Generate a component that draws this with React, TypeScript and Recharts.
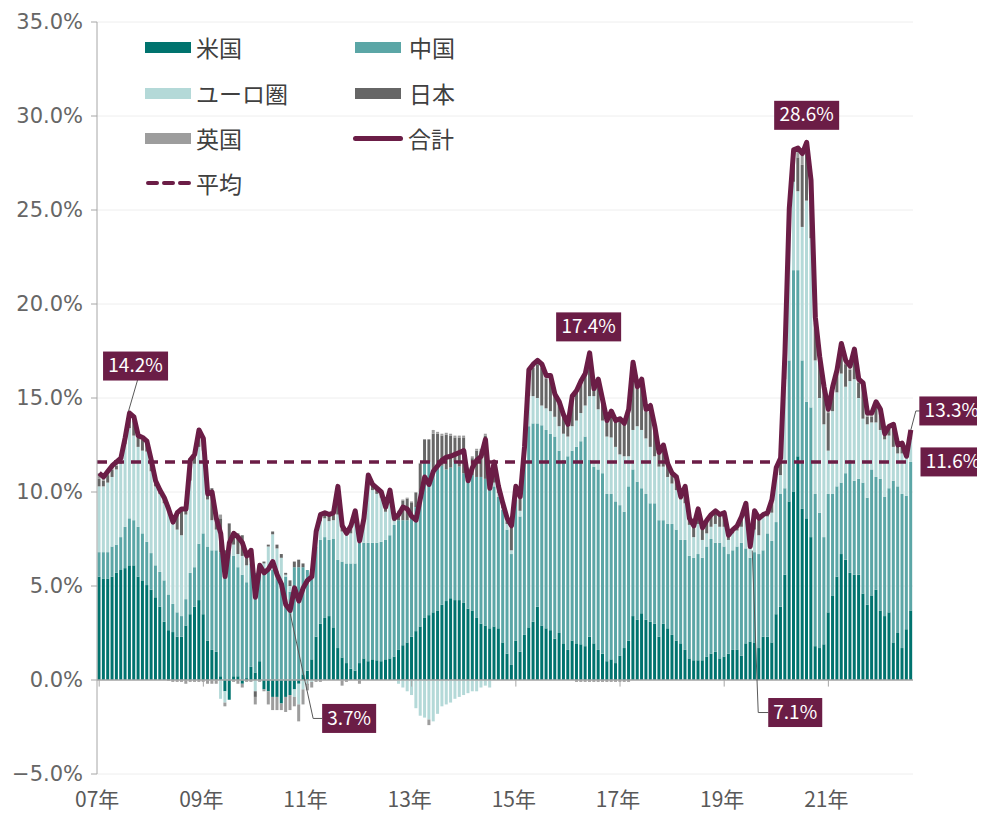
import React from "react";
import {
  ComposedChart,
  Bar,
  Line,
  XAxis,
  YAxis,
  CartesianGrid,
  ReferenceLine,
  LabelList,
} from "recharts";

// 2007年1月〜2022年8月 (月次)
const START_YEAR = 2007;

// 米国
const us = [
  5.5, 5.4, 5.4, 5.5, 5.7, 5.85, 5.95, 6.1, 6.1, 5.5, 5.3, 5.05,
  4.8, 4.4, 3.9, 3.1, 2.65, 2.55, 2.3, 2.3, 2.9, 3.5, 3.9, 4.25,
  3.5, 2.1, 1.6, 1.5, 0.2, -0.6, -1.05, 0.2, 0.2, -0.2, 0.1, 0.7,
  0.4, 1.0, -0.5, -0.6, -0.9, -0.9, -1.25, -0.9, -0.8, -0.5, -0.2, 0.3,
  0.5, 1.1, 2.3, 3.0, 3.3, 3.4, 2.8, 1.7, 1.2, 0.9, 0.6, 0.5,
  0.9, 1.15, 1.0, 1.1, 1.05, 1.0, 1.1, 1.15, 1.25, 1.6, 1.85, 2.0,
  2.3, 2.6, 2.85, 3.3, 3.45, 3.6, 3.7, 4.0, 4.2, 4.35, 4.25, 4.25,
  4.1, 3.8, 3.7, 3.3, 3.0, 2.9, 2.75, 2.85, 2.75, 2.0, 1.4, 0.8,
  2.1, 1.5, 2.4, 2.8, 3.1, 3.9, 2.9, 2.75, 2.65, 2.2, 2.5, 1.95,
  1.6, 2.1, 1.95, 1.9, 1.8, 2.3, 1.95, 1.6, 1.4, 1.0, 1.1, 0.9,
  1.3, 1.7, 2.1, 3.4, 3.2, 3.55, 3.2, 3.1, 3.0, 2.3, 3.0, 2.75,
  2.4, 2.1, 1.95, 1.6, 1.15, 1.05, 1.05, 1.05, 1.25, 1.4, 1.5, 1.15,
  1.25, 1.4, 1.6, 1.6, 1.3, 1.95, 2.05, 2.0, 1.7, 2.3, 2.3, 2.0,
  3.5, 3.9, 5.6, 9.5, 10.0, 11.9, 9.1, 8.6, 7.6, 1.8, 1.7, 1.9,
  3.6, 4.5, 5.5, 6.7, 6.4, 5.7, 5.6, 5.6, 4.6, 4.0, 4.5, 4.8,
  3.7, 3.4, 3.6, 2.0, 2.5, 1.7, 2.7, 3.7,
];

// 中国
const cn = [
  1.3, 1.4, 1.4, 1.6, 1.5, 1.75, 2.2, 2.5, 2.4, 2.65, 2.5, 2.3,
  1.95, 1.7, 1.85, 2.2, 1.9, 1.5, 1.3, 1.1, 1.4, 2.2, 2.1, 3.0,
  4.3, 5.0, 5.3, 5.4, 6.6, 6.5, 6.8, 6.4, 5.8, 5.6, 5.1, 5.5,
  5.3, 5.2, 5.9, 6.0, 5.85, 5.8, 5.0, 5.5, 4.7, 6.0, 6.0, 5.7,
  5.35, 4.6, 4.8, 4.45, 4.3, 4.05, 4.7, 4.7, 5.1, 5.3, 5.6, 5.7,
  6.4, 6.15, 6.3, 6.2, 6.25, 6.35, 6.35, 6.55, 7.0, 6.9, 6.65, 6.5,
  6.4, 6.6, 7.15, 8.3, 8.15, 7.4, 7.8, 7.4, 7.0, 6.95, 7.35, 7.1,
  6.9, 7.2, 7.2, 7.5, 7.8, 7.8, 7.75, 7.45, 7.0, 7.05, 6.6, 5.9,
  7.5, 7.2, 9.7, 10.7, 10.55, 9.75, 10.65, 10.55, 10.45, 10.75, 9.7, 9.75,
  10.3, 10.1, 10.45, 10.8, 11.15, 9.4, 9.4, 9.6, 9.6, 8.9, 8.8, 8.6,
  8.0, 7.25, 8.2, 7.8, 7.35, 6.65, 6.7, 6.3, 6.4, 6.2, 5.5, 5.55,
  5.9, 5.9, 5.5, 5.85, 5.45, 5.45, 5.65, 5.45, 5.85, 6.1, 5.8, 6.15,
  5.85, 5.3, 5.3, 5.5, 6.0, 5.05, 4.45, 4.8, 5.0, 4.6, 5.5, 5.4,
  4.9, 6.0, 4.6, 7.5, 11.8, 9.9, 7.9, 6.2, 6.9, 8.1, 7.2, 5.7,
  6.3, 5.4, 4.8, 3.8, 4.6, 6.0, 5.0, 5.1, 5.9, 5.7, 6.7, 6.0,
  7.0, 6.35, 6.6, 8.6, 7.8, 8.2, 7.1, 7.9,
];

// ユーロ圏
const eu = [
  3.5, 3.5, 3.7, 3.7, 4.0, 3.9, 4.4, 4.8, 4.5, 4.25, 4.4, 4.8,
  4.35, 4.2, 4.15, 4.1, 4.4, 4.25, 4.4, 4.3, 4.5, 4.9, 5.5, 5.15,
  4.4, 2.5, 1.6, 1.1, -1.0, -0.6, 0.6, 0.6, 0.7, 1.0, 0.9, 0.3,
  -0.6, 0.0, 0.3, 1.1, 1.9, 1.2, 1.5, 0.1, 0.3, -0.4, -1.1, -0.5,
  -0.2, -0.1, 0.6, 1.0, 1.0, 1.0, 1.0, 2.4, 1.6, 1.5, 1.6, 2.2,
  0.3, 1.1, 3.3, 2.8, 2.6, 2.35, 1.5, 2.1, 0.2, -0.2, -0.4, -0.6,
  -0.8, -1.5, -1.9, -2.0, -2.1, -2.2, -1.8, -1.4, -1.3, -1.2, -1.0, -0.9,
  -0.8, -0.7, -0.6, -0.6, -0.4, -0.3, -0.4, 0.2, 0.2, 0.1, 0.3, 0.2,
  0.2, 0.3, 0.2, 1.6, 1.45, 1.35, 1.05, 1.15, 1.2, 1.05, 1.3, 1.4,
  1.05, 1.3, 1.4, 1.5, 1.65, 3.4, 3.75, 3.2, 2.8, 3.05, 3.0, 2.9,
  2.7, 2.95, 1.6, 2.1, 2.95, 3.1, 2.95, 3.0, 2.5, 2.85, 2.85, 2.5,
  2.15, 2.1, 2.15, 1.95, 1.65, 1.1, 1.6, 0.95, 0.7, 0.65, 1.0, 0.85,
  1.05, 0.75, 0.9, 0.85, 0.85, 1.7, 0.5, 1.2, 1.0, 1.8, 0.9, 1.5,
  2.5, 1.0, 5.8, 7.0, 4.7, 4.2, 7.1, 10.7, 9.0, 7.1, 6.1, 6.0,
  2.3, 4.4, 5.0, 5.8, 4.6, 4.2, 5.4, 4.3, 3.4, 3.9, 2.5, 2.9,
  2.6, 3.05, 2.8, 1.8, 1.75, 2.15, 2.1, 1.2,
];

// 日本
const jp = [
  0.4, 0.3, 0.4, 0.4, 0.2, 0.1, 0.2, 0.6, 0.8, 0.5, 0.6, 0.5,
  0.6, 0.3, 0.2, 0.3, 0.2, 0.2, 1.0, 1.5, 0.5, 1.2, 0.6, 1.0,
  0.75, 0.5, 1.7, 0.8, 1.8, 0.4, 0.9, 0.7, 1.1, 1.1, 0.6, 0.5,
  -0.3, 0.0, 0.1, 0.1, 0.15, 0.2, 0.2, 0.1, 0.3, 0.3, 0.4, 0.2,
  -0.05, 0.2, 0.3, 0.45, 0.3, 0.35, 0.4, 1.5, 0.6, 0.2, 0.4, 0.6,
  0.0, 0.15, 0.25, 0.25, 0.25, 0.25, 0.2, 0.25, 0.1, 0.45, 1.05, 1.15,
  0.75, 0.75, 1.5, 1.2, 1.2, 2.1, 1.6, 1.6, 1.85, 1.7, 1.3, 1.55,
  1.9, 0.2, 0.9, 1.4, 1.4, 2.3, 0.1, 1.0, 0.3, 0.2, 0.25, 1.2,
  0.4, 0.65, 0.0, 1.2, 1.5, 1.8, 2.0, 1.6, 1.75, 1.1, 1.2, 0.9,
  0.6, 1.6, 1.7, 1.8, 1.8, 2.4, 0.5, 1.7, 1.2, 0.95, 1.5, 1.5,
  2.0, 1.85, 2.6, 3.4, 2.0, 2.6, 1.45, 2.1, 1.5, 0.65, 1.05, 0.6,
  0.5, 0.65, 0.15, 0.9, 0.35, 0.6, 0.8, 0.65, 0.65, 0.6, 0.65, 0.6,
  0.7, 0.2, 0.15, 0.2, 0.5, 0.65, 0.1, 0.9, 0.8, 0.0, 0.1, 0.6,
  0.3, 0.7, 1.2, 0.8, 1.3, 1.8, 3.3, 2.6, 2.7, 2.0, 2.0, 1.8,
  2.0, 1.1, 1.0, 1.4, 1.2, 0.6, 1.4, 0.8, 1.7, 0.4, 0.3, 0.9,
  0.9, 0.2, 0.4, 1.1, 0.35, 0.45, 0.0, 0.4,
];

// 英国
const uk = [
  0.3, 0.2, 0.2, 0.2, 0.2, 0.2, 0.15, 0.2, 0.2, 0.1, 0.1, 0.05,
  0.0, 0.0, 0.0, 0.0, -0.05, -0.1, -0.1, -0.1, -0.2, -0.1, -0.1, -0.1,
  -0.1, -0.2, -0.2, -0.2, 0.2, -0.2, 0.05, -0.1, -0.2, -0.2, -0.1, -0.1,
  -0.4, -0.1, -0.1, -0.7, -0.7, -0.7, -0.35, -0.8, -0.8, -0.5, -0.9, -0.8,
  -0.3, -0.3, -0.1, -0.1, 0.0, 0.0, 0.0, 0.0, -0.3, -0.1, 0.0, 0.0,
  -0.2, 0.05, 0.05, 0.05, 0.05, 0.05, 0.05, 0.05, 0.05, 0.05, 0.05, 0.05,
  0.05, 0.05, 0.05, 0.0, -0.3, 0.2, 0.1, 0.1, 0.1, 0.1, 0.1, 0.1,
  0.1, 0.1, 0.1, 0.1, 0.1, 0.1, 0.0, 0.1, 0.05, 0.05, 0.05, 0.1,
  0.1, 0.1, 0.1, 0.2, 0.2, 0.2, 0.2, 0.15, 0.15, 0.1, 0.1, 0.1,
  0.05, 0.0, -0.1, -0.1, -0.1, -0.1, -0.1, -0.1, -0.1, -0.1, -0.1, -0.1,
  -0.1, -0.1, -0.1, 0.2, 0.1, 0.1, 0.1, 0.1, 0.1, 0.1, 0.1, 0.1,
  0.05, 0.05, 0.0, 0.0, 0.0, 0.0, 0.0, 0.0, 0.05, 0.05, 0.05, 0.05,
  0.05, 0.05, 0.05, 0.05, 0.05, 0.05, 0.0, 0.1, 0.1, 0.1, 0.1, 0.1,
  0.1, 0.2, 0.2, 0.3, 0.4, 0.5, 0.6, 0.5, 0.4, 0.3, 0.2, 0.2,
  0.2, 0.2, 0.2, 0.2, 0.2, 0.2, 0.2, 0.2, 0.2, 0.2, 0.2, 0.2,
  0.2, 0.1, 0.1, 0.1, 0.1, 0.1, 0.0, 0.1,
];

// 合計
const total = [
  11.0, 10.8, 11.1, 11.4, 11.6, 11.8, 12.9, 14.2, 14.0, 13.0, 12.9, 12.7,
  11.7, 10.6, 10.1, 9.7, 9.1, 8.4, 8.9, 9.1, 9.1, 11.7, 12.0, 13.3,
  12.85, 9.9, 10.0, 8.6, 7.8, 5.5, 7.3, 7.8, 7.6, 7.3, 6.6, 6.9,
  4.4, 6.1, 5.7, 5.9, 6.3, 5.6, 5.1, 4.0, 3.7, 4.9, 4.2, 4.9,
  5.3, 5.5, 7.9, 8.8, 8.9, 8.8, 8.9, 10.3, 8.2, 7.8, 8.2, 9.0,
  7.4, 8.6, 10.9, 10.4, 10.2, 10.0, 9.2, 10.1, 8.6, 8.8, 9.2, 9.1,
  8.7, 8.5, 9.65, 10.8, 10.4, 11.1, 11.4, 11.7, 11.85, 11.9, 12.0, 12.1,
  12.2, 10.6, 11.3, 11.7, 11.9, 12.8, 10.2, 11.6, 10.3, 9.4, 8.6, 8.2,
  10.3, 9.75, 12.4, 16.5, 16.8, 17.0, 16.8, 16.2, 16.2, 15.2, 14.8, 14.1,
  13.6, 15.1, 15.4, 15.9, 16.3, 17.4, 15.5, 16.0, 14.9, 13.8, 14.3, 13.8,
  13.9, 13.65, 14.4, 16.9, 15.6, 16.0, 14.4, 14.6, 13.5, 12.1, 12.5, 11.5,
  11.0, 10.8, 9.75, 10.3, 8.6, 8.2, 9.1, 8.1, 8.5, 8.8, 9.0, 8.8,
  8.9, 7.7, 8.0, 8.2, 8.7, 9.4, 7.1, 9.0, 8.6, 8.8, 8.9, 9.6,
  11.3, 11.8, 17.4, 25.1, 28.2, 28.3, 28.0, 28.6, 26.6, 19.3, 17.2, 15.6,
  14.4, 15.6, 16.5, 17.9, 17.0, 16.7, 17.6, 16.0, 15.8, 14.2, 14.2, 14.8,
  14.4, 13.1, 13.5, 13.6, 12.5, 12.6, 11.9, 13.3,
];

// 平均
const AVG = 11.6;

const yearTicks = ["2007-01", "2009-01", "2011-01", "2013-01", "2015-01", "2017-01", "2019-01", "2021-01"];
const yearLabels = ["07年", "09年", "11年", "13年", "15年", "17年", "19年", "21年"];
const yTicks = [-5, 0, 5, 10, 15, 20, 25, 30, 35];

const months = total.map(
  (_, i) => `${START_YEAR + Math.floor(i / 12)}-${String((i % 12) + 1).padStart(2, "0")}`
);

const data = months.map((m, i) => ({
  m,
  us: us[i],
  cn: cn[i],
  eu: eu[i],
  jp: jp[i],
  uk: uk[i],
  total: total[i],
}));

const C_US = "#00736e";
const C_CN = "#5ba6a6";
const C_EU = "#b4d9d8";
const C_JP = "#666666";
const C_UK = "#9d9d9d";
const C_TOTAL = "#6b1d46";

const FONT = '"Noto Sans CJK JP", "Noto Sans", sans-serif';

// 吹き出し (合計のポイントからの位置)
const callouts: Record<number, { dx: number; dy: number; leader?: number[][] }> = {
  7: { dx: 6, dy: -47, leader: [[8, -33], [-1, -2]] },
  44: { dx: 59, dy: 108, leader: [[0, 3], [23, 108], [32, 108]] },
  113: { dx: -1, dy: -26 },
  150: { dx: 45, dy: 166, leader: [[2, 4], [8, 166], [18, 166]] },
  163: { dx: 0, dy: -27 },
  187: { dx: 41, dy: -19, leader: [[0, 0], [5, -19], [9, -19]] },
};

function Tag({ cx, cy, text }: { cx: number; cy: number; text: string }) {
  const w = text.length * 11 + 10;
  return (
    <g>
      <rect x={cx - w / 2} y={cy - 14.5} width={w} height={29} fill={C_TOTAL} />
      <text
        x={cx}
        y={cy + 1}
        textAnchor="middle"
        dominantBaseline="middle"
        fill="#ffffff"
        fontSize={19}
        fontFamily={FONT}
      >
        {text}
      </text>
    </g>
  );
}

function renderCallout(props: any) {
  const idx = props.index;
  const c = callouts[idx];
  if (!c) return null;
  const x = props.x ?? props.viewBox?.x;
  const y = props.y ?? props.viewBox?.y;
  if (x == null || y == null) return null;
  const text = `${total[idx].toFixed(1)}%`;
  return (
    <g key={`callout-${idx}`}>
      {c.leader && (
        <polyline
          points={c.leader.map(([a, b]) => `${x + a},${y + b}`).join(" ")}
          fill="none"
          stroke="#595959"
          strokeWidth={1}
        />
      )}
      <Tag cx={x + c.dx} cy={y + c.dy} text={text} />
    </g>
  );
}

function AvgLabel(props: any) {
  const vb = props.viewBox || {};
  const cx = vb.x + vb.width + 8 + 32;
  return <Tag cx={cx} cy={vb.y} text={`${AVG.toFixed(1)}%`} />;
}

const legendItems = [
  { name: "米国", color: C_US, kind: "bar", col: 0, row: 0 },
  { name: "中国", color: C_CN, kind: "bar", col: 1, row: 0 },
  { name: "ユーロ圏", color: C_EU, kind: "bar", col: 0, row: 1 },
  { name: "日本", color: C_JP, kind: "bar", col: 1, row: 1 },
  { name: "英国", color: C_UK, kind: "bar", col: 0, row: 2 },
  { name: "合計", color: C_TOTAL, kind: "line", col: 1, row: 2 },
  { name: "平均", color: C_TOTAL, kind: "dash", col: 0, row: 3 },
];
const colX = [137, 345];
const rowY = [39, 85, 130, 175];

function ChartLegend() {
  return (
    <>
      {legendItems.map((it) => (
        <div
          key={it.name}
          style={{
            position: "absolute",
            left: colX[it.col],
            top: rowY[it.row] - 16,
            height: 32,
            display: "flex",
            alignItems: "center",
            fontFamily: FONT,
            fontSize: 23,
            color: "#404040",
            whiteSpace: "nowrap",
          }}
        >
          {it.kind === "bar" && (
            <div style={{ width: 46, height: 11, background: it.color, marginRight: it.col ? 8 : 5, marginLeft: it.col ? 2 : 0 }} />
          )}
          {it.kind === "line" && (
            <div style={{ width: 50, height: 5, borderRadius: 3, background: it.color, marginRight: 5 }} />
          )}
          {it.kind === "dash" && (
            <svg width={48} height={6} style={{ marginRight: 3 }}>
              <line x1={3} y1={3} x2={46} y2={3} stroke={it.color} strokeWidth={4} strokeDasharray="9 7" strokeLinecap="round" />
            </svg>
          )}
          <span>{it.name}</span>
        </div>
      ))}
    </>
  );
}

export default function App() {
  return (
    <div style={{ position: "relative", width: 977, height: 809 }}>
      <ComposedChart
        width={977}
        height={809}
        data={data}
        stackOffset="sign"
        barCategoryGap="12%"
        margin={{ top: 14, right: 72, bottom: 0, left: 0 }}
      >
        <CartesianGrid horizontal vertical={false} stroke="#eeeeee" />
        <XAxis
          dataKey="m"
          ticks={yearTicks}
          interval={0}
          tickFormatter={(m: string) => yearLabels[yearTicks.indexOf(m)] ?? ""}
          axisLine={false}
          tickLine={false}
          height={43}
          tickMargin={12}
          tick={{ fill: "#595959", fontSize: 21, fontFamily: FONT, dx: -2 }}
        />
        <YAxis
          domain={[-5, 35]}
          ticks={yTicks}
          interval={0}
          width={89}
          tickSize={6}
          tickMargin={8}
          axisLine={{ stroke: "#a6a6a6" }}
          tickLine={{ stroke: "#a6a6a6" }}
          tick={{ fill: "#666666", fontSize: 21, fontFamily: '"DejaVu Sans", sans-serif' }}
          tickFormatter={(v: number) => (v < 0 ? `−${Math.abs(v).toFixed(1)}%` : `${v.toFixed(1)}%`)}
        />
        <Bar dataKey="us" stackId="s" fill={C_US} isAnimationActive={false} />
        <Bar dataKey="cn" stackId="s" fill={C_CN} isAnimationActive={false} />
        <Bar dataKey="eu" stackId="s" fill={C_EU} isAnimationActive={false} />
        <Bar dataKey="jp" stackId="s" fill={C_JP} isAnimationActive={false} />
        <Bar dataKey="uk" stackId="s" fill={C_UK} isAnimationActive={false} />
        <ReferenceLine y={0} stroke="#a6a6a6" strokeWidth={1.5} />
        {yearTicks.map((m) => (
          <ReferenceLine
            key={m}
            segment={[
              { x: m, y: 0 },
              { x: m, y: -0.35 },
            ]}
            stroke="#a6a6a6"
          />
        ))}
        <ReferenceLine
          y={AVG}
          stroke={C_TOTAL}
          strokeWidth={3.5}
          strokeDasharray="10 7"
          label={<AvgLabel />}
        />
        <Line
          dataKey="total"
          type="linear"
          stroke={C_TOTAL}
          strokeWidth={5}
          strokeLinejoin="round"
          dot={false}
          isAnimationActive={false}
        >
          <LabelList dataKey="total" content={renderCallout} />
        </Line>
      </ComposedChart>
      <ChartLegend />
    </div>
  );
}
